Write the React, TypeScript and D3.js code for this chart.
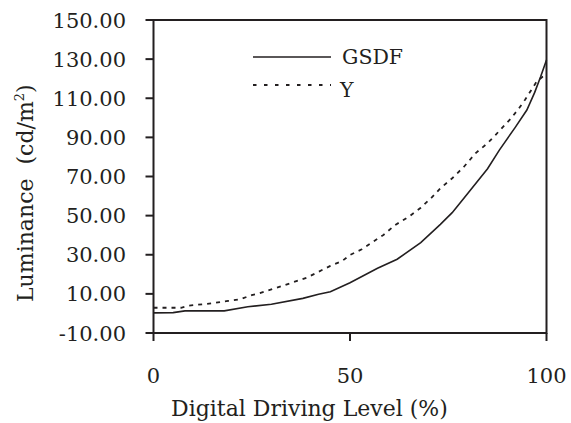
import React from 'react';
import * as d3 from 'd3';

// digital driving level (%) and luminance (cd/m2)
const gsdfLevel = [0, 5, 8, 18, 24, 30, 38, 42, 45, 50, 57, 62, 68, 73, 76, 80, 85, 88, 92, 95, 97, 98.5, 100];
const gsdfLum = [0.3, 0.4, 1.3, 1.3, 3.4, 4.7, 7.7, 9.8, 11.1, 15.7, 23.1, 27.7, 36.2, 45.5, 51.5, 61.5, 74, 83.5, 95, 104, 113, 121, 129.6];

const yLevel = [0, 7, 9, 15, 19, 22, 25, 27, 30, 33, 39, 42, 45, 48, 50, 53, 58.5, 61.5, 65, 68, 71, 73, 76, 79, 82, 85, 87, 91, 93, 94.5, 97.5, 99, 100];
const yLum = [2.9, 2.9, 4.0, 5.2, 6.4, 7.2, 9.4, 10.3, 12.3, 14.2, 18.3, 21.3, 24.3, 26.8, 29.9, 32.8, 40.1, 45.2, 49.5, 54, 59.7, 64, 69.1, 75, 82, 87, 91.2, 99.8, 104.9, 109.1, 118.5, 121, 122];

const xTicks = [0, 50, 100];
const yTicks = [-10, 10, 30, 50, 70, 90, 110, 130, 150];

const W = 571;
const H = 423;
const ink = '#231f20';
const font = '"DejaVu Serif", serif';

const App: React.FC = () => {
  const x = d3.scaleLinear().domain([0, 100]).range([153.5, 546.5]);
  const y = d3.scaleLinear().domain([-10, 150]).range([333, 20]);

  const line = d3.line<[number, number]>()
    .x(d => x(d[0]))
    .y(d => y(d[1]));

  const gsdf = gsdfLevel.map((v, i) => [v, gsdfLum[i]] as [number, number]);
  const ySeries = yLevel.map((v, i) => [v, yLum[i]] as [number, number]);

  const x0 = x(0), x1 = x(100);
  const yb = y(-10), yt = y(150);

  return (
    <svg width={W} height={H} style={{ position: 'absolute', left: 0, top: 0, background: '#fff' }}
      fontFamily={font} fill={ink}>
      {/* frame */}
      <path d={`M${x0},${yt}H${x1}V${yb}H${x0}Z`} fill="none" stroke={ink} strokeWidth={2} />

      {/* y ticks */}
      {yTicks.map(t => (
        <g key={t}>
          <line x1={x0 - 8} x2={x0} y1={y(t)} y2={y(t)} stroke={ink} strokeWidth={2} />
          <text x={126} y={y(t) + 7.5} textAnchor="end" fontSize={21}>{t.toFixed(2)}</text>
        </g>
      ))}

      {/* x ticks */}
      {xTicks.map(t => (
        <g key={t}>
          <line x1={x(t)} x2={x(t)} y1={yb} y2={yb + 8} stroke={ink} strokeWidth={2} />
          <text x={x(t)} y={383} textAnchor="middle" fontSize={21}>{t}</text>
        </g>
      ))}

      {/* series */}
      <path d={line(gsdf) || ''} fill="none" stroke={ink} strokeWidth={1.6} />
      <path d={line(ySeries) || ''} fill="none" stroke={ink} strokeWidth={1.8} strokeDasharray="4,5" />

      {/* legend */}
      <line x1={253} x2={331} y1={57} y2={57} stroke={ink} strokeWidth={1.6} />
      <text x={342} y={64} fontSize={20.5}>GSDF</text>
      <line x1={253} x2={331} y1={85} y2={85} stroke={ink} strokeWidth={1.8} strokeDasharray="3.5,7.5" />
      <text x={340} y={97} fontSize={20.5}>Y</text>

      {/* axis titles */}
      <text x={171} y={416} fontSize={22}>Digital Driving Level (%)</text>
      <text transform="translate(33,302) rotate(-90)" fontSize={22}>
        Luminance{'\u00a0'} (cd/m<tspan dy={-9} fontSize={13}>2</tspan><tspan dy={9}>)</tspan>
      </text>
    </svg>
  );
};

export default App;
